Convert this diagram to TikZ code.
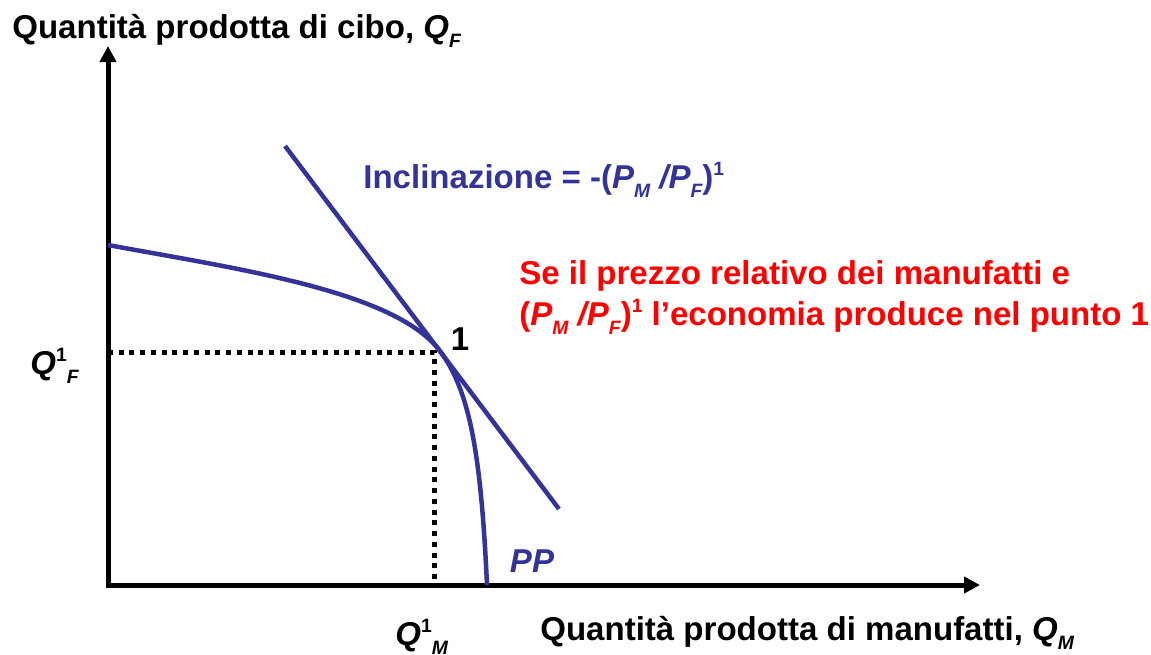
\documentclass[tikz,border=0pt]{standalone}
\usepackage{fontspec}
\setmainfont{Liberation Sans}
\usetikzlibrary{arrows.meta}
\definecolor{ppblue}{RGB}{51,51,153}
\newcommand{\lo}[1]{\raisebox{-0.3em}{\fontsize{11}{11}\selectfont\itshape #1}}
\newcommand{\hi}[1]{\raisebox{0.38em}{\fontsize{11}{11}\selectfont #1}}
\begin{document}
\begin{tikzpicture}[x=0.02cm,y=-0.02cm,font=\fontsize{18.8}{22.5}\selectfont\bfseries,
	every node/.style={inner sep=0pt},
	axis/.style={line width=0.1cm,line cap=rect,-{Triangle[length=0.32cm,width=0.32cm]}},
	pp/.style={ppblue,line width=0.09cm},
	guide/.style={line width=0.1cm,dash pattern=on 0.1cm off 0.115cm}]
	\useasboundingbox (0,0) rectangle (1151,654);
	\path
	(108,585) coordinate (O)
	(108,46) coordinate (Y)
	(980,585) coordinate (X)
	(108,245) coordinate (A)
	(440,351) coordinate (E)
	(487,585) coordinate (B)
	(285,146) coordinate (L1)
	(559,509) coordinate (L2)
	(108,352) coordinate (QF)
	(434,352) coordinate (C)
	(434,585) coordinate (QM);
	\draw[axis] (O)--(Y);
	\draw[axis] (O)--(X);
	\draw[guide] (QF)--(C)--(QM);
	\draw[pp] (L1)--(L2);
	\draw[pp] (A) .. controls (238,269) and (395,291) .. (E)
	.. controls (470,391) and (481,455) .. (B);
	\node[anchor=base west] (ty) at (12,38) {Quantità prodotta di cibo, \textit{Q}\lo{F}};
	\node[anchor=base west] (tx) at (540,640) {Quantità prodotta di manufatti, \textit{Q}\lo{M}};
	\node[anchor=base west,text=ppblue] (sl) at (363,188)
	{Inclinazione = -(\textit{P}\lo{M} \textit{/P}\lo{F})\hi{1}};
	\node[anchor=base west,text=red] (r1) at (519,284) {Se il prezzo relativo dei manufatti e};
	\node[anchor=base west,text=red] (r2) at (519,325)
	{(\textit{P}\lo{M} \textit{/P}\lo{F})\hi{1} l’economia produce nel punto 1};
	\node[anchor=base] (n1) at (460,350) {1};
	\node[anchor=base,text=ppblue] (np) at (532,572) {\itshape PP};
	\node[anchor=base west] (qf) at (30,374) {\textit{Q}\hi{1}\lo{F}};
	\node[anchor=base west] (qm) at (395,645) {\textit{Q}\hi{1}\lo{M}};
\end{tikzpicture}
\end{document}
